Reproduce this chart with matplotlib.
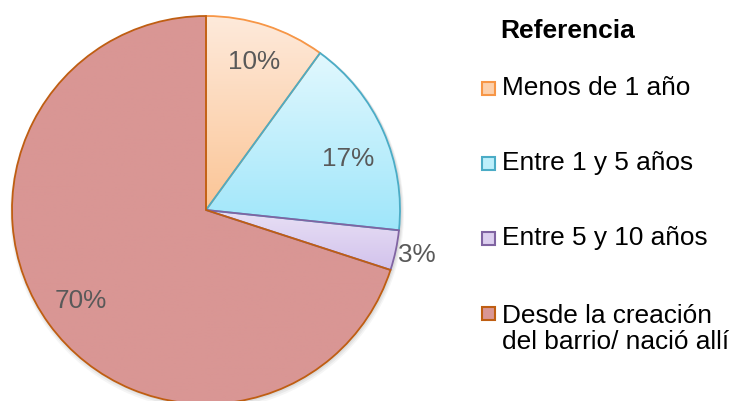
import matplotlib.pyplot as plt
import numpy as np
from matplotlib.patches import Rectangle, Circle
from matplotlib.colors import LinearSegmentedColormap

plt.rcParams['font.family'] = ['Liberation Sans', 'DejaVu Sans']

# respuestas (n=30)
labels = ["Menos de 1 año", "Entre 1 y 5 años", "Entre 5 y 10 años",
          "Desde la creación\ndel barrio/ nació allí"]
counts = [3, 5, 1, 21]
top_colors = ["#FEEADB", "#E2F8FE", "#E8E0F5", "#D99694"]
bot_colors = ["#FBC596", "#9FE6FA", "#D2C2EC", "#D99694"]
edge_colors = ["#F79646", "#4BACC6", "#8064A2", "#BF5E12"]
legend_fill = ["#FCD0AC", "#BDEFFB", "#DCCFEF", "#D99694"]

W, H = 735, 401
fig = plt.figure(figsize=(W / 100, H / 100), dpi=100)
ax = fig.add_axes([0, 0, 1, 1])

cx, cy, r = 206, H - 210, 194

# sombra suave
for i, a in enumerate([0.05, 0.05, 0.04]):
    ax.add_patch(Circle((cx + 1, cy - 1 - i), r + 1 + i, color="black", alpha=a, lw=0, zorder=0))

wedges, _ = ax.pie(counts, startangle=90, counterclock=False, center=(cx, cy), radius=r,
                   colors=bot_colors, wedgeprops=dict(linewidth=0), normalize=True)
for w, c0, c1 in zip(wedges, top_colors, bot_colors):
    w.set_zorder(1)
    bb = w.get_path().get_extents().transformed(w.get_patch_transform())
    cmap = LinearSegmentedColormap.from_list("g", [c1, c0])
    grad = np.linspace(0, 1, 256).reshape(-1, 1)
    im = ax.imshow(grad, cmap=cmap, extent=[bb.x0, bb.x1, bb.y0, bb.y1], origin="lower",
                   aspect="auto", zorder=2)
    im.set_clip_path(w)

wedges2, _, autotexts = ax.pie(counts, startangle=90, counterclock=False, center=(cx, cy), radius=r,
                               colors=["none"] * 4, autopct="%.0f%%", pctdistance=0.8,
                               wedgeprops=dict(linewidth=1.3), normalize=True,
                               textprops=dict(fontsize=18.8, color="#595959"))
for w, ec in zip(wedges2, edge_colors):
    w.set_edgecolor(ec)
    w.set_facecolor("none")
    w.set_zorder(3)
for t, n in zip(autotexts, counts):
    t.set_zorder(4)
    x, y = t.get_position()
    if n / sum(counts) < 0.05:
        k = 1.11 / 0.8
        t.set_position((cx + (x - cx) * k, cy + (y - cy) * k))
    elif n == 5:
        # Excel lo deja algo más abajo
        t.set_position((x, y - 12))

ax.set_xlim(0, W)
ax.set_ylim(0, H)
ax.set_aspect("equal")
ax.axis("off")

# leyenda
fig.text(500 / W, 1 - 31 / H, "Referencia", fontsize=19, fontweight="bold", va="center", ha="left")
rows = [88, 163, 238, 313]
for lab, y, fc, ec in zip(labels, rows, legend_fill, edge_colors):
    fig.patches.append(Rectangle(((482) / W, 1 - (y + 6.5) / H), 13 / W, 13 / H,
                                 transform=fig.transFigure, facecolor=fc, edgecolor=ec, lw=1.5))
    yc = y if "\n" not in lab else y + 16
    fig.text(502 / W, 1 - yc / H, lab, fontsize=18.9, va="center", ha="left", linespacing=1.15)

fig.savefig("out.png", dpi=100)
